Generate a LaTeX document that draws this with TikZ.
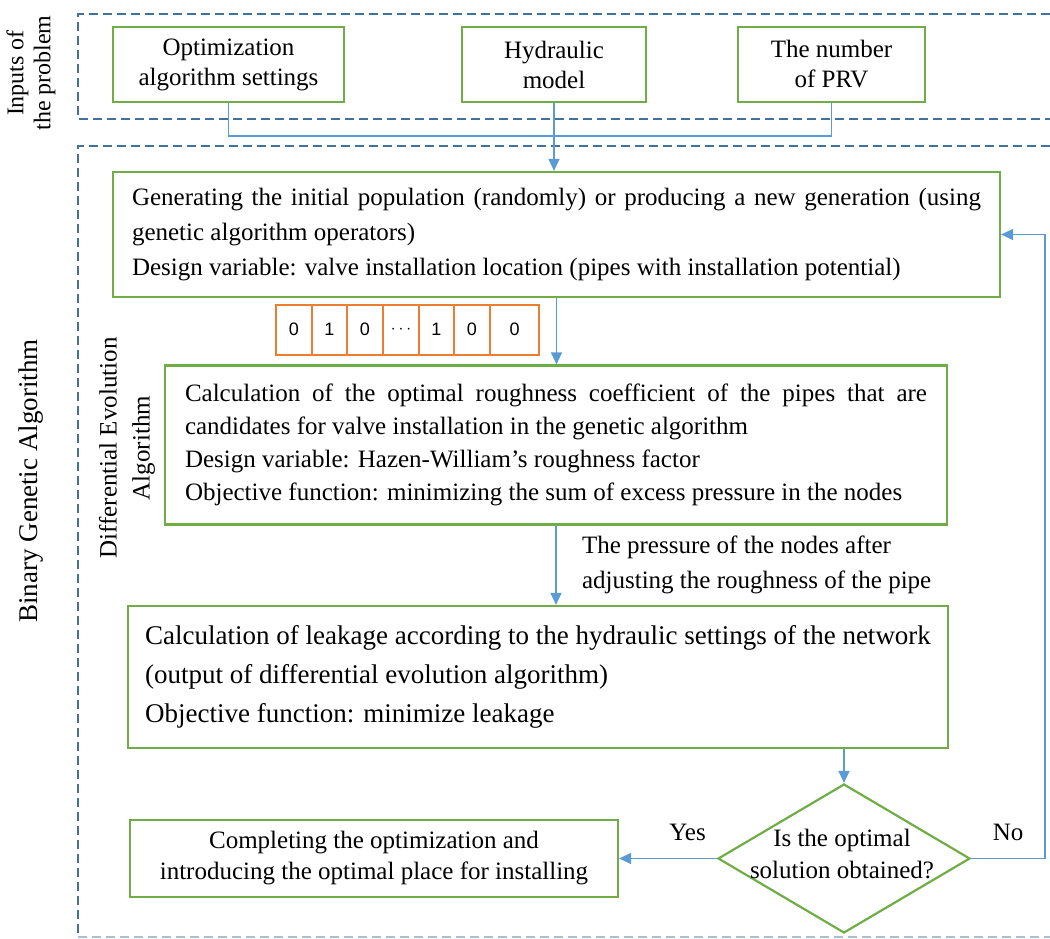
\documentclass[tikz,border=0pt]{standalone}
\usepackage{fontspec}
\setmainfont{Liberation Serif}
\setsansfont{Liberation Sans}
\usetikzlibrary{shapes.geometric,arrows.meta}

\definecolor{boxgreen}{RGB}{112,173,71}
\definecolor{linkblue}{RGB}{91,155,213}
\definecolor{frameblue}{RGB}{65,113,156}
\definecolor{bitorange}{RGB}{237,125,49}

\begin{document}
\begin{tikzpicture}[x=1pt,y=-1pt,>={Triangle[width=11pt,length=12pt]},
                    font=\fontsize{25}{33}\selectfont,
                    main node/.style={draw=boxgreen,line width=2.2pt,inner sep=0pt,align=left},
                    in node/.style={main node,align=center,minimum height=75pt,font=\fontsize{25}{30}\selectfont},
                    bit node/.style={draw=bitorange,line width=2pt,minimum height=50pt,inner sep=0pt,font=\sffamily\fontsize{18}{18}\selectfont},
                    cond node/.style={diamond,draw=boxgreen,line width=2.2pt,inner sep=0pt,minimum width=252pt,minimum height=149pt},
                    link/.style={draw=linkblue,line width=1.4pt},
                    arrow/.style={link,->},
                    frame/.style={draw=frameblue,line width=1.8pt,dash pattern=on 9pt off 5pt}]

  \useasboundingbox (0,0) rectangle (1050,939);

  % dashed frames
  \draw[frame] (1050,14) -- (78,14) -- (78,119) -- (1050,119);
  \draw[frame] (1050,146) -- (78,146) -- (78,937);
  \draw[frame,draw=frameblue!45] (78,937) -- (1050,937);

  \node[rotate=90,align=center,font=\fontsize{24}{27}\selectfont] (t1) at (31,73) {Inputs of\\the problem};
  \node[rotate=90,font=\fontsize{27}{30}\selectfont] (t2) at (31,481) {Binary Genetic Algorithm};
  \node[rotate=90,align=center,font=\fontsize{25}{33}\selectfont] (t3) at (127,448) {Differential Evolution\\Algorithm};

  % inputs
  \node[in node,minimum width=231pt] (1) at (228.5,64.5) {Optimization\\algorithm settings};
  \node[in node,minimum width=184pt] (2) at (554,64.5) {Hydraulic\\model};
  \node[in node,minimum width=187pt] (3) at (831.5,64.5) {The number\\of PRV};

  % steps
  \node[main node,minimum width=887pt,minimum height=125pt,font=\fontsize{25}{35}\selectfont] (4) at (556.5,234.5)
    {\makebox[849pt][s]{Generating the initial population (randomly) or producing a new generation (using}\\
     genetic algorithm operators)\\
     Design variable: valve installation location (pipes with installation potential)};
  \node[main node,minimum width=782pt,minimum height=159pt,font=\fontsize{25}{33}\selectfont] (5) at (556,445)
    {\makebox[742pt][s]{Calculation of the optimal roughness coefficient of the pipes that are}\\
     candidates for valve installation in the genetic algorithm\\
     Design variable: Hazen-William’s roughness factor\\
     Objective function: minimizing the sum of excess pressure in the nodes};
  \node[main node,minimum width=820pt,minimum height=142pt,font=\fontsize{27}{39}\selectfont] (6) at (538,677)
    {Calculation of leakage according to the hydraulic settings of the network\\
     (output of differential evolution algorithm)\\
     Objective function: minimize leakage};
  \node[cond node] (7) at (844,858.5) {};
  \node[align=center,font=\fontsize{25}{32}\selectfont] (7t) at (842,854) {Is the optimal\\solution obtained?};
  \node[main node,align=center,minimum width=488pt,minimum height=77pt,font=\fontsize{25}{31}\selectfont] (8) at (374,858.5)
    {Completing the optimization and\\introducing the optimal place for installing};

  % chromosome
  \foreach \l/\r/\d [count=\i] in {276/312/0,312/347/1,347/383/0,383/419/$\cdots$,419/454/1,454/490/0,490/539/0}
    \node[bit node,minimum width={(\r-\l)*1pt}] (b\i) at ({(\l+\r)/2},329.5) {\d};

  % connectors
  \coordinate (j) at (554,136);
  \draw[link] (1.south) |- (j) -| (3.south);
  \draw[arrow] (2.south) -- (2.south |- 4.north);
  \draw[arrow] (4.south) -- (4.south |- 5.north);
  \draw[arrow] (5.south) -- node[right=22pt,align=left,font=\fontsize{25}{35}\selectfont]
    {The pressure of the nodes after\\adjusting the roughness of the pipe} (5.south |- 6.north);
  \draw[arrow] (6.south -| 7.north) -- (7.north);
  \draw[arrow] (7.west) -- node[pos=0.3,above=14pt] {Yes} (8.east);
  \draw[arrow] (7.east) -- node[above=14pt] {No} ++(74,0) |- (4.east);
\end{tikzpicture}
\end{document}
